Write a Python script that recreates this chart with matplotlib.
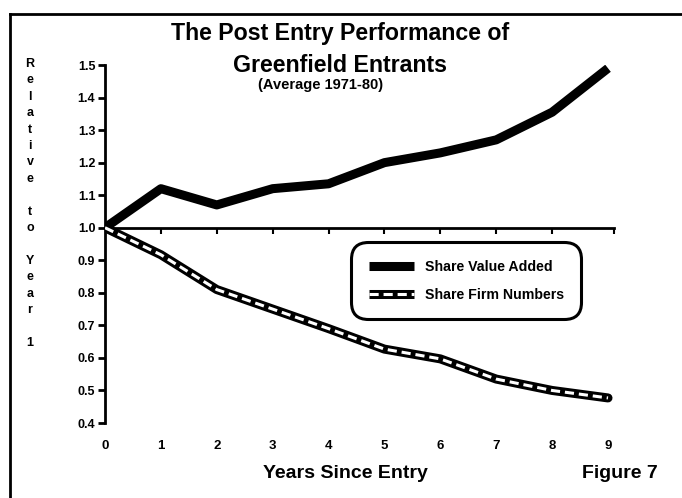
import matplotlib
matplotlib.use("Agg")
import matplotlib.pyplot as plt
from matplotlib.lines import Line2D
from matplotlib.legend_handler import HandlerTuple

plt.rcParams['font.family'] = ['Liberation Sans', 'DejaVu Sans']
plt.rcParams['font.weight'] = 'bold'

years = [0, 1, 2, 3, 4, 5, 6, 7, 8, 9]
value_added = [1.0, 1.12, 1.07, 1.12, 1.135, 1.20, 1.23, 1.27, 1.355, 1.49]
firm_numbers = [1.0, 0.917, 0.81, 0.75, 0.69, 0.627, 0.597, 0.535, 0.50, 0.477]
y_ticks = [0.4, 0.5, 0.6, 0.7, 0.8, 0.9, 1.0, 1.1, 1.2, 1.3, 1.4, 1.5]
y_tick_labels = ['0.4', '0.5', '0.6', '0.7', '0.8', '0.9', '1.0', '1.1', '1.2', '1.3', '1.4', '1.5']
x_tick_labels = ['0', '1', '2', '3', '4', '5', '6', '7', '8', '9']

W, H = 682, 498
fig = plt.figure(figsize=(W / 100, H / 100), dpi=100)
left, right, bottom, top = 105, 613.6, 423, 65
ax = fig.add_axes([left / W, 1 - bottom / H, (right - left) / W, (bottom - top) / H])

ax.plot(years, value_added, color='black', lw=6.5, solid_joinstyle='round',
        solid_capstyle='butt', zorder=3)
ax.plot(years, firm_numbers, color='black', lw=6.5, solid_joinstyle='round',
        solid_capstyle='round', zorder=3)
ax.plot(years, firm_numbers, color='white', lw=2.2, dashes=(3, 1.6),
        solid_joinstyle='round', zorder=4)

ax.set_xlim(0, 9.1)
ax.set_ylim(0.4, 1.5)
ax.spines['top'].set_visible(False)
ax.spines['right'].set_visible(False)
ax.spines['left'].set_linewidth(2)
ax.spines['bottom'].set_position(('data', 1.0))
ax.spines['bottom'].set_linewidth(2)
ax.set_yticks(y_ticks)
ax.set_yticklabels(y_tick_labels, fontsize=9, fontweight='bold')
ax.tick_params(axis='y', direction='out', length=5, width=2, pad=2)
ax.set_xticks(years[1:9] + [9.1])
ax.set_xticklabels([])
ax.tick_params(axis='x', direction='out', length=4, width=1.5)

sec = ax.secondary_xaxis(0)
sec.set_xticks(years)
sec.set_xticklabels(x_tick_labels, fontsize=9.5, fontweight='bold')
sec.spines['bottom'].set_visible(False)
sec.tick_params(length=0, pad=12)

h1 = Line2D([], [], color='black', lw=6.5, solid_capstyle='butt')
h2o = Line2D([], [], color='black', lw=6.5, solid_capstyle='butt')
h2i = Line2D([], [], color='white', lw=2.2, dashes=(3, 1.6))
leg = ax.legend([h1, (h2o, h2i)], ['Share Value Added', 'Share Firm Numbers'],
                handler_map={tuple: HandlerTuple(ndivide=1, pad=0)},
                loc='center', bbox_to_anchor=(0.710, 0.397),
                prop={'size': 10.2, 'weight': 'bold'},
                handlelength=3.2, handletextpad=0.75, labelspacing=0.95,
                borderpad=0.55, borderaxespad=0, fancybox=True, framealpha=1)
fr = leg.get_frame()
fr.set_edgecolor('black')
fr.set_linewidth(2.2)
fr.set_boxstyle('round,pad=0.7,rounding_size=1.2')

fig.text(340 / W, 1 - 33.5 / H, 'The Post Entry Performance of', ha='center', va='center',
         fontsize=16.7, fontweight='bold')
fig.text(340 / W, 1 - 65 / H, 'Greenfield Entrants', ha='center', va='center',
         fontsize=16.7, fontweight='bold')
fig.text(321 / W, 1 - 85 / H, '(Average 1971-80)', ha='center', va='center',
         fontsize=10.5, fontweight='bold')

fig.text(345 / W, 1 - 473 / H, 'Years Since Entry', ha='center', va='center',
         fontsize=14, fontweight='bold')
fig.text(620 / W, 1 - 473 / H, 'Figure 7', ha='center', va='center',
         fontsize=14, fontweight='bold')

letters = ['R', 'e', 'l', 'a', 't', 'i', 'v', 'e', '', 't', 'o', '', 'Y', 'e', 'a', 'r', '', '1']
fig.text(30 / W, 1 - 203.5 / H, '\n'.join(letters), ha='center', va='center',
         fontsize=9, fontweight='bold', linespacing=1.49)

fig.add_artist(Line2D([10 / W, 10 / W], [0, 1 - 14 / H], color='black', lw=2))
fig.add_artist(Line2D([10 / W, 1], [1 - 14 / H, 1 - 14 / H], color='black', lw=2))

fig.savefig('out.png', dpi=100)
